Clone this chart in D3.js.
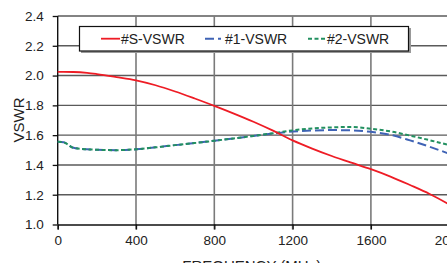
<!DOCTYPE html>
<html>
<head>
<meta charset="utf-8">
<script src="https://cdn.jsdelivr.net/npm/d3@7"></script>
<style>
  body { margin: 0; background: #fff; overflow: hidden; }
  svg { display: block; font-family: "Liberation Sans", Arial, sans-serif; }
</style>
</head>
<body>
<div id="chart"></div>
<script>
// frequency in MHz
const freq = [0, 30, 80, 150, 200, 300, 400, 500, 600, 700, 800, 900, 1000, 1100, 1200, 1300, 1400, 1500, 1600, 1700, 1800, 1900, 2000, 2040];
const sVswr = [2.025, 2.025, 2.024, 2.018, 2.01, 1.99, 1.968, 1.935, 1.893, 1.846, 1.797, 1.745, 1.69, 1.63, 1.565, 1.51, 1.46, 1.415, 1.372, 1.322, 1.265, 1.205, 1.135, 1.105];
const v1Vswr = [1.555, 1.552, 1.515, 1.505, 1.502, 1.499, 1.505, 1.518, 1.533, 1.547, 1.562, 1.578, 1.595, 1.611, 1.624, 1.631, 1.634, 1.632, 1.622, 1.602, 1.565, 1.522, 1.475, 1.455];
const v2Vswr = [1.555, 1.552, 1.515, 1.505, 1.502, 1.499, 1.505, 1.518, 1.533, 1.547, 1.562, 1.578, 1.595, 1.613, 1.632, 1.645, 1.652, 1.655, 1.643, 1.625, 1.597, 1.566, 1.532, 1.516];
const xTicks = [0, 400, 800, 1200, 1600, 2000, 2400];
const yTicks = [1.0, 1.2, 1.4, 1.6, 1.8, 2.0, 2.2, 2.4];

const w = 447, h = 263;
const padLeft = 57.7, padTop = 16, padBottom = 224.5;

const svg = d3.select("#chart").append("svg")
    .attr("width", w)
    .attr("height", h);

const xScale = d3.scaleLinear().domain([0, 2400]).range([padLeft, padLeft + 78.3 * 6]);
const yScale = d3.scaleLinear().domain([1.0, 2.4]).range([padBottom, padTop]);

// gridlines
svg.append("g")
    .selectAll("line")
    .data(yTicks.slice(1))
    .enter()
    .append("line")
    .attr("x1", padLeft).attr("x2", xScale(2400))
    .attr("y1", d => yScale(d)).attr("y2", d => yScale(d))
    .attr("stroke", "#5a5a5a")
    .attr("stroke-width", 1.4);

svg.append("g")
    .selectAll("line")
    .data(xTicks.slice(1))
    .enter()
    .append("line")
    .attr("x1", d => xScale(d)).attr("x2", d => xScale(d))
    .attr("y1", padTop).attr("y2", padBottom + 5)
    .attr("stroke", "#7a7a7a")
    .attr("stroke-width", 1.6);

// axes
const xAxis = d3.axisBottom(xScale).tickValues(xTicks).tickSize(5).tickPadding(6)
    .tickFormat(d3.format("d"));
const yAxis = d3.axisLeft(yScale).tickValues(yTicks).tickSize(5).tickPadding(9)
    .tickFormat(d3.format(".1f"));

const gx = svg.append("g")
    .attr("transform", "translate(0," + padBottom + ")")
    .call(xAxis);
const gy = svg.append("g")
    .attr("transform", "translate(" + padLeft + ",0)")
    .call(yAxis);

[gx, gy].forEach(g => {
    g.select(".domain").attr("stroke", "#111").attr("stroke-width", 1.4);
    g.selectAll(".tick line").attr("stroke", "#111").attr("stroke-width", 1.3);
    g.selectAll("text").attr("fill", "#222").style("font-size", "13.5px")
        .style("font-family", "Liberation Sans, Arial, sans-serif");
});
gy.select(".domain").attr("d", "M0," + padBottom + "V" + padTop);

// series
const series = [
    { name: "#S-VSWR", values: sVswr, color: "#ee1c25", dash: null, width: 1.8 },
    { name: "#1-VSWR", values: v1Vswr, color: "#3f63b5", dash: "9,4", width: 2 },
    { name: "#2-VSWR", values: v2Vswr, color: "#229060", dash: "4,2.5", width: 2 }
];

const line = d3.line()
    .x((d, i) => xScale(freq[i]))
    .y(d => yScale(d))
    .curve(d3.curveMonotoneX);

[series[1], series[2], series[0]].forEach(s => {
    svg.append("path")
        .attr("d", line(s.values))
        .attr("fill", "none")
        .attr("stroke", s.color)
        .attr("stroke-width", s.width)
        .attr("stroke-dasharray", s.dash);
});

// legend
svg.append("rect")
    .attr("x", 81).attr("y", 28).attr("width", 330).attr("height", 25)
    .attr("fill", "#999");
svg.append("rect")
    .attr("x", 79.5).attr("y", 26.5).attr("width", 329).attr("height", 24.5)
    .attr("fill", "#fff")
    .attr("stroke", "#111")
    .attr("stroke-width", 1.2);

const legendX = [[101, 120, 121], [205, 221, 225], [308, 327, 327]];
series.forEach((s, i) => {
    svg.append("line")
        .attr("x1", legendX[i][0]).attr("x2", legendX[i][1])
        .attr("y1", 38.7).attr("y2", 38.7)
        .attr("stroke", s.color)
        .attr("stroke-width", s.width)
        .attr("stroke-dasharray", s.dash);
    svg.append("text")
        .attr("x", legendX[i][2])
        .attr("y", 43.6)
        .attr("fill", "#222")
        .style("font-size", "14px")
        .text(s.name);
});

// axis titles
svg.append("text")
    .attr("x", 251.7)
    .attr("y", 270.5)
    .style("text-anchor", "middle")
    .style("font-size", "15px")
    .attr("fill", "#222")
    .text("FREQUENCY (MHz)");

svg.append("text")
    .attr("transform", "rotate(-90)")
    .attr("x", -120)
    .attr("y", 24)
    .style("text-anchor", "middle")
    .style("font-size", "15px")
    .attr("fill", "#222")
    .text("VSWR");
</script>
</body>
</html>
